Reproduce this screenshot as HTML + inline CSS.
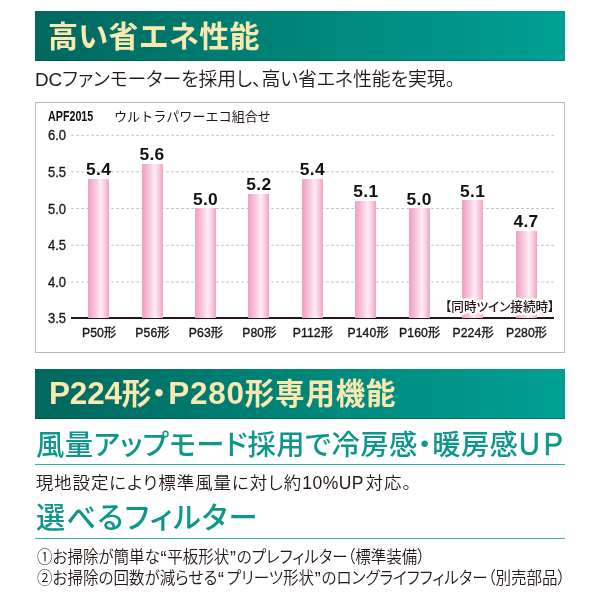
<!DOCTYPE html>
<html lang="ja">
<head>
<meta charset="utf-8">
<title>高い省エネ性能</title>
<style>
html,body{margin:0;padding:0;background:#fff;}
body{width:600px;height:600px;position:relative;overflow:hidden;
  font-family:"Liberation Sans","Noto Sans CJK JP",sans-serif;color:#231815;}
.abs{position:absolute;white-space:nowrap;line-height:1;transform-origin:0 50%;}
.banner{position:absolute;left:35px;width:529.5px;height:49.5px;
  background:linear-gradient(90deg,#00675e 0%,#00857a 50%,#009f94 100%);box-shadow:inset 0 -1px 0 rgba(0,60,55,0.35);}
.banner .t{position:absolute;left:13px;letter-spacing:0.25px;top:0.5px;line-height:49px;font-size:30px;font-weight:700;color:#fae9ae;white-space:nowrap;}
.L{font-size:31.5px;letter-spacing:-0.2px;}
.q{font-size:1.15em;line-height:0;margin:0 0.8px;position:relative;top:0.08em;}
.palt{font-feature-settings:"palt" 1;}
.chart{position:absolute;left:35px;top:102px;width:528px;height:249px;border:1px solid #bababa;background:#fff;}
.axis{position:absolute;left:71.3px;top:317.4px;width:482.7px;height:1.6px;background:#231815;}
.bar{position:absolute;width:21px;background:linear-gradient(90deg,#f09fc5 0%,#f4b0cf 16%,#f9cbe0 38%,#fdeef5 61%,#f9cde1 80%,#f1a2c7 100%);}
.val{position:absolute;width:60px;text-align:center;font-weight:700;font-size:17.4px;letter-spacing:0.35px;line-height:1;white-space:nowrap;color:#111;}
.yl{position:absolute;left:47.8px;font-size:14px;transform-origin:0 50%;transform:scaleX(0.93);color:#161616;-webkit-text-stroke:0.3px #161616;line-height:1;white-space:nowrap;}
.xl{position:absolute;width:70px;text-align:center;letter-spacing:0.1px;font-size:12.2px;font-weight:400;color:#161616;-webkit-text-stroke:0.35px #161616;line-height:1;white-space:nowrap;top:326.6px;}
.h2{transform-origin:0 50%;position:absolute;left:36px;font-size:29.5px;color:#0d968b;white-space:nowrap;line-height:1;font-weight:500;}
.rule{position:absolute;left:35.3px;width:529.5px;height:1px;background:#36b0a6;}
</style>
</head>
<body>
<div class="banner" style="top:11px;"><div class="t">高い省エネ性能</div></div>
<div class="abs palt" id="l1" style="left:34.5px;top:70.3px;font-size:19px;font-weight:350;transform:scaleX(0.99);">DCファンモーターを採用し、高い省エネ性能を実現。</div>

<div class="chart"></div>
<div class="abs" id="apf" style="left:47.6px;top:109.3px;font-size:14px;font-weight:700;transform:scaleX(0.765);color:#111;">APF2015</div>
<div class="abs" id="sub" style="left:114px;top:109.5px;font-size:13px;transform:scaleX(1.007);">ウルトラパワーエコ組合せ</div>

<svg class="gridsvg" width="600" height="600" viewBox="0 0 600 600" style="position:absolute;left:0;top:0;pointer-events:none;">
<line x1="71.3" y1="135.3" x2="554" y2="135.3" stroke="#bfbfbf" stroke-width="1" stroke-dasharray="2.5 2.5"/>
<line x1="71.3" y1="171.8" x2="554" y2="171.8" stroke="#bfbfbf" stroke-width="1" stroke-dasharray="2.5 2.5"/>
<line x1="71.3" y1="208.5" x2="554" y2="208.5" stroke="#bfbfbf" stroke-width="1" stroke-dasharray="2.5 2.5"/>
<line x1="71.3" y1="245.3" x2="554" y2="245.3" stroke="#bfbfbf" stroke-width="1" stroke-dasharray="2.5 2.5"/>
<line x1="71.3" y1="282.0" x2="554" y2="282.0" stroke="#bfbfbf" stroke-width="1" stroke-dasharray="2.5 2.5"/>
</svg>
<div class="axis"></div>

<div class="yl" style="top:128.3px;">6.0</div>
<div class="yl" style="top:164.8px;">5.5</div>
<div class="yl" style="top:201.5px;">5.0</div>
<div class="yl" style="top:238.3px;">4.5</div>
<div class="yl" style="top:274.8px;">4.0</div>
<div class="yl" style="top:311.0px;">3.5</div>

<div class="bar" style="left:88.1px;top:179.0px;height:138.8px;"></div>
<div class="bar" style="left:141.5px;top:163.8px;height:154.0px;"></div>
<div class="bar" style="left:195.0px;top:208.2px;height:109.6px;"></div>
<div class="bar" style="left:248.4px;top:193.8px;height:124.0px;"></div>
<div class="bar" style="left:301.9px;top:179.0px;height:138.8px;"></div>
<div class="bar" style="left:355.3px;top:201.1px;height:116.7px;"></div>
<div class="bar" style="left:408.7px;top:208.2px;height:109.6px;"></div>
<div class="bar" style="left:462.1px;top:200.4px;height:117.4px;"></div>
<div class="bar" style="left:515.5px;top:230.8px;height:87.0px;"></div>

<div class="val" style="left:68.6px;top:161.4px;">5.4</div>
<div class="val" style="left:122.0px;top:146.2px;">5.6</div>
<div class="val" style="left:175.5px;top:190.6px;">5.0</div>
<div class="val" style="left:228.9px;top:176.2px;">5.2</div>
<div class="val" style="left:282.4px;top:161.4px;">5.4</div>
<div class="val" style="left:335.8px;top:182.8px;">5.1</div>
<div class="val" style="left:389.2px;top:190.6px;">5.0</div>
<div class="val" style="left:442.6px;top:182.8px;">5.1</div>
<div class="val" style="left:496.0px;top:213.2px;">4.7</div>

<div class="xl" style="left:64.1px;">P50形</div>
<div class="xl" style="left:117.5px;">P56形</div>
<div class="xl" style="left:171.0px;">P63形</div>
<div class="xl" style="left:224.4px;">P80形</div>
<div class="xl" style="left:277.9px;">P112形</div>
<div class="xl" style="left:333.1px;">P140形</div>
<div class="xl" style="left:384.7px;">P160形</div>
<div class="xl" style="left:438.1px;">P224形</div>
<div class="xl" style="left:491.5px;">P280形</div>

<div class="abs palt" id="twin" style="left:445px;top:300.7px;font-size:12.6px;font-weight:500;text-shadow:1.00px 0.00px 0px #fff,0.71px 0.71px 0px #fff,0.00px 1.00px 0px #fff,-0.71px 0.71px 0px #fff,-1.00px 0.00px 0px #fff,-0.71px -0.71px 0px #fff,-0.00px -1.00px 0px #fff,0.71px -0.71px 0px #fff,2.00px 0.00px 0px #fff,1.73px 1.00px 0px #fff,1.00px 1.73px 0px #fff,0.00px 2.00px 0px #fff,-1.00px 1.73px 0px #fff,-1.73px 1.00px 0px #fff,-2.00px 0.00px 0px #fff,-1.73px -1.00px 0px #fff,-1.00px -1.73px 0px #fff,-0.00px -2.00px 0px #fff,1.00px -1.73px 0px #fff,1.73px -1.00px 0px #fff,2.80px 0.00px 0.8px #fff,2.42px 1.40px 0.8px #fff,1.40px 2.42px 0.8px #fff,0.00px 2.80px 0.8px #fff,-1.40px 2.42px 0.8px #fff,-2.42px 1.40px 0.8px #fff,-2.80px 0.00px 0.8px #fff,-2.42px -1.40px 0.8px #fff,-1.40px -2.42px 0.8px #fff,-0.00px -2.80px 0.8px #fff,1.40px -2.42px 0.8px #fff,2.42px -1.40px 0.8px #fff;">【同時ツイン接続時】</div>

<div class="banner" style="top:368.5px;height:50px;"><div class="t palt" id="b2" style="line-height:50px;left:14px;top:-0.5px;letter-spacing:0.3px;font-size:29.5px;"><span class="L">P224</span>形・<span class="L" style="letter-spacing:0.75px;margin-left:1.6px;">P280</span><span style="letter-spacing:0.8px;">形専用機能</span></div></div>

<div class="h2 palt" id="h2a" style="top:430.8px;font-size:28.3px;letter-spacing:0.4px;">風量アップモード採用で冷房感・暖房感<span style="display:inline-block;font-size:31px;line-height:0;letter-spacing:4.2px;margin-left:1.2px;transform:scaleX(0.93);transform-origin:0 50%;-webkit-text-stroke:0.55px #0d968b;">UP</span></div>
<div class="rule" style="top:464px;"></div>
<div class="abs palt" id="p1" style="left:35.7px;top:475px;font-size:17.5px;font-weight:350;letter-spacing:0.9px;">現地設定により標準風量に対し約<span style="letter-spacing:0.5px;margin-right:1.5px;">10%UP</span>対応。</div>

<div class="h2 palt" id="h2b" style="top:503.9px;font-size:29.2px;letter-spacing:1.2px;">選べるフィルター</div>
<div class="rule" style="top:538px;"></div>
<div class="abs palt" id="li1" style="left:36.5px;top:549px;font-size:17px;font-weight:350;transform:scaleX(0.9125);">①お掃除が簡単な<span class="q">“</span>平板形状<span class="q">”</span>のプレフィルター（標準装備）</div>
<div class="abs palt" id="li2" style="left:36.5px;top:570.3px;font-size:17px;font-weight:350;transform:scaleX(0.9138);">②お掃除の回数が減らせる<span class="q" style="margin-right:3px;">“</span>プリーツ形状<span class="q">”</span>のロングライフフィルター（別売部品）</div>
</body>
</html>
